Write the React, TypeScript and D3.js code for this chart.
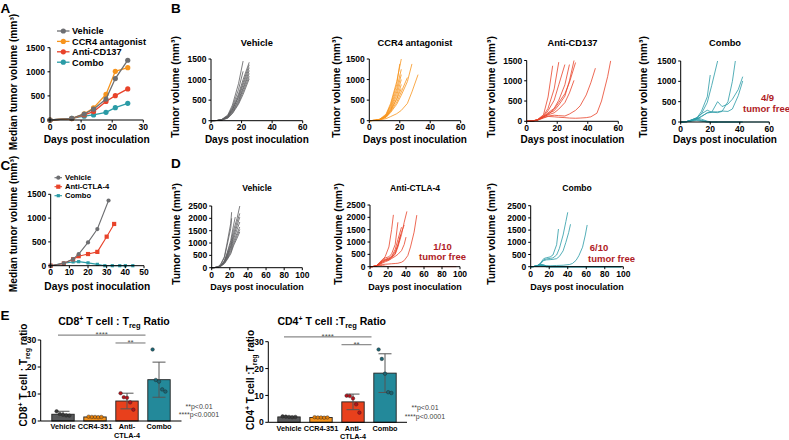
import React from 'react';
import * as d3 from 'd3';

type Pt = [number, number];
const FONT = "'Liberation Sans', Arial, Helvetica, sans-serif";

const COL = {
  vehicle: '#6d6e71',
  ccr4: '#f7941d',
  red: '#e8432a',
  teal: '#2a9ba6',
  darkRed: '#b01c24',
};

// ---------------- Panel A (median tumor volume) ----------------
const aDays = [0, 7, 11, 14, 18, 21, 25];
const aVehicle = [0, 35, 125, 225, 435, 860, 1240];
const aCcr4 = [0, 30, 130, 250, 530, 1010, 1085];
const aCd137 = [0, 30, 105, 175, 385, 505, 645];
const aCombo = [0, 35, 80, 105, 160, 255, 345];
const aXTicks = [0, 10, 20, 30];
const aYTicks = [0, 500, 1000, 1500];
const aLegend = ['Vehicle', 'CCR4 antagonist', 'Anti-CD137', 'Combo'];

// ---------------- Panel C (median tumor volume) ----------------
const cVehicleDays = [0, 7, 12, 15, 20, 25, 31];
const cVehicle = [0, 50, 140, 245, 490, 770, 1370];
const cCtla4Days = [0, 7, 12, 15, 20, 25, 30, 34];
const cCtla4 = [0, 45, 135, 200, 245, 290, 610, 877];
const cComboDays = [0, 7, 12, 15, 20, 25, 29, 33, 37, 40, 44];
const cCombo = [0, 55, 80, 85, 60, 28, 0, 0, 0, 0, 0];
const cXTicks = [0, 10, 20, 30, 40, 50];
const cYTicks = [0, 500, 1000, 1500];
const cLegend = ['Vehicle', 'Anti-CTLA-4', 'Combo'];

// ---------------- Panel B (individual tumors) ----------------
const bXTicks = [0, 20, 40, 60];
const bYTicks = [0, 500, 1000, 1500];
const bVehicle: Pt[][] = [
  [[0, 0], [4, 5], [7, 30], [11, 140], [14, 380], [18, 900], [21, 1450]],
  [[0, 0], [4, 5], [7, 25], [11, 120], [14, 330], [18, 760], [21, 1200]],
  [[0, 0], [4, 5], [7, 25], [11, 110], [14, 300], [18, 650], [21, 1000], [25, 1420]],
  [[0, 0], [4, 5], [7, 20], [11, 95], [14, 260], [18, 600], [21, 930], [25, 1360]],
  [[0, 0], [4, 5], [7, 20], [11, 100], [14, 270], [18, 560], [21, 870], [25, 1290]],
  [[0, 0], [4, 5], [7, 20], [11, 85], [14, 230], [18, 510], [21, 800], [25, 1220]],
  [[0, 0], [4, 5], [7, 15], [11, 80], [14, 210], [18, 470], [21, 760], [25, 1150]],
  [[0, 0], [4, 5], [7, 15], [11, 70], [14, 190], [18, 430], [21, 700], [25, 1080]],
  [[0, 0], [4, 5], [7, 15], [11, 60], [14, 170], [18, 400], [21, 640], [25, 1020]],
];
const bCcr4: Pt[][] = [
  [[0, 0], [4, 10], [7, 40], [11, 160], [14, 420], [18, 950], [21, 1500]],
  [[0, 0], [4, 10], [7, 35], [11, 140], [14, 380], [18, 880], [20, 1380]],
  [[0, 0], [4, 10], [7, 35], [11, 130], [14, 340], [18, 780], [21, 1250]],
  [[0, 0], [4, 10], [7, 30], [11, 120], [14, 300], [18, 700], [21, 1120]],
  [[0, 0], [4, 10], [7, 30], [11, 110], [14, 270], [18, 620], [21, 1000]],
  [[0, 0], [4, 10], [7, 30], [11, 100], [14, 240], [18, 540], [21, 880]],
  [[0, 0], [4, 10], [7, 25], [11, 90], [14, 220], [18, 450], [21, 700], [25, 1050]],
  [[0, 0], [4, 5], [7, 25], [11, 80], [14, 200], [18, 400], [21, 620], [25, 950], [28, 1380]],
  [[0, 0], [4, 5], [7, 20], [11, 50], [14, 100], [18, 170], [21, 250], [25, 420], [28, 700], [32, 1120]],
  [[0, 0], [4, 10], [7, 30], [11, 100], [14, 250], [18, 520], [21, 780]],
];
const bCd137: Pt[][] = [
  [[0, 0], [4, 10], [7, 40], [11, 160], [14, 600], [17, 1370]],
  [[0, 0], [4, 10], [7, 40], [11, 140], [14, 320], [18, 800], [21, 1460]],
  [[0, 0], [4, 10], [7, 35], [11, 120], [14, 260], [18, 520], [21, 900], [25, 1400]],
  [[0, 0], [4, 10], [7, 30], [11, 110], [14, 210], [18, 320], [21, 520], [25, 900], [28, 1400]],
  [[0, 0], [4, 10], [7, 30], [11, 120], [14, 190], [18, 260], [21, 400], [25, 620], [28, 1000], [31, 1500]],
  [[0, 0], [4, 10], [7, 30], [11, 100], [14, 170], [18, 300], [21, 460], [25, 680], [28, 960], [32, 1450]],
  [[0, 0], [4, 10], [7, 30], [11, 110], [14, 160], [18, 210], [21, 300], [25, 460], [28, 700], [31, 1010]],
  [[0, 0], [4, 10], [7, 30], [11, 90], [14, 130], [18, 150], [21, 140], [25, 130], [28, 180], [32, 270], [35, 380], [39, 650], [42, 950], [45, 1310]],
  [[0, 0], [4, 10], [7, 25], [11, 80], [14, 120], [18, 110], [21, 100], [25, 90], [28, 80], [32, 75], [35, 80], [39, 90], [42, 110], [46, 200], [49, 500], [53, 1100], [55, 1490]],
];
const bCombo: Pt[][] = [
  [[0, 0], [4, 10], [7, 40], [11, 100], [14, 260], [18, 620], [20, 1155]],
  [[0, 0], [4, 10], [7, 40], [11, 90], [14, 200], [18, 480], [21, 900], [25, 1500]],
  [[0, 0], [4, 10], [7, 45], [11, 110], [14, 200], [18, 290], [21, 240], [25, 500], [28, 380], [32, 440], [35, 560], [39, 800], [42, 1115]],
  [[0, 0], [4, 10], [7, 30], [11, 80], [14, 130], [18, 230], [21, 250], [25, 250], [28, 270], [32, 260], [35, 320], [39, 650], [42, 1010]],
  [[0, 0], [4, 10], [7, 30], [11, 70], [14, 140], [18, 220], [21, 240], [25, 230], [28, 260], [32, 500], [35, 1000], [37, 1500]],
  [[0, 0], [4, 10], [7, 50], [11, 100], [14, 70], [18, 20], [21, 0], [60, 0]],
  [[0, 0], [4, 10], [7, 40], [11, 80], [14, 40], [18, 10], [21, 0], [42, 0]],
  [[0, 0], [4, 5], [7, 30], [11, 60], [14, 30], [18, 0], [42, 0]],
  [[0, 0], [4, 5], [7, 20], [11, 40], [14, 20], [18, 0], [25, 0]],
];

// ---------------- Panel D (individual tumors) ----------------
const dXTicks = [0, 20, 40, 60, 80, 100];
const dYTicks = [0, 500, 1000, 1500, 2000, 2500];
const dVehicle: Pt[][] = [
  [[0, 0], [3, 5], [7, 40], [10, 150], [14, 450], [17, 1000], [21, 1800], [22, 2250]],
  [[0, 0], [3, 5], [7, 35], [10, 130], [14, 400], [17, 900], [21, 1600], [22, 2000]],
  [[0, 0], [3, 5], [7, 25], [10, 90], [14, 280], [17, 550], [21, 1000], [24, 1500], [28, 2000], [31, 2500]],
  [[0, 0], [3, 5], [7, 25], [10, 85], [14, 260], [17, 500], [21, 900], [24, 1350], [28, 1850], [31, 2200]],
  [[0, 0], [3, 5], [7, 20], [10, 80], [14, 240], [17, 460], [21, 850], [24, 1250], [28, 1700], [31, 2050]],
  [[0, 0], [3, 5], [7, 20], [10, 70], [14, 220], [17, 420], [21, 780], [24, 1150], [28, 1550], [31, 1850]],
  [[0, 0], [3, 5], [7, 20], [10, 70], [14, 200], [17, 380], [21, 700], [24, 1050], [28, 1400], [31, 1650]],
  [[0, 0], [3, 5], [7, 15], [10, 60], [14, 180], [17, 350], [21, 620], [24, 950], [28, 1300], [31, 1550]],
  [[0, 0], [3, 5], [7, 15], [10, 55], [14, 160], [17, 320], [21, 560], [24, 880], [28, 1200], [31, 1450]],
  [[0, 0], [3, 5], [7, 20], [10, 80], [14, 260], [17, 600], [21, 1100], [24, 1700], [26, 2050]],
];
const dCtla4: Pt[][] = [
  [[0, 0], [3, 5], [7, 40], [10, 130], [14, 260], [17, 420], [21, 800], [24, 1500], [26, 2100]],
  [[0, 0], [3, 5], [7, 40], [10, 150], [14, 300], [17, 360], [21, 400], [24, 520], [28, 900], [31, 1800]],
  [[0, 0], [3, 5], [7, 35], [10, 120], [14, 250], [17, 300], [21, 350], [24, 420], [28, 600], [31, 900], [35, 1400], [38, 1690]],
  [[0, 0], [3, 5], [7, 30], [10, 110], [14, 220], [17, 280], [21, 320], [24, 380], [28, 500], [31, 800], [35, 1300], [38, 1800], [41, 2240]],
  [[0, 0], [3, 5], [7, 30], [10, 100], [14, 200], [17, 260], [21, 300], [24, 400], [28, 700], [31, 1100], [35, 1600]],
  [[0, 0], [3, 5], [7, 30], [10, 100], [14, 180], [17, 240], [21, 280], [24, 350], [28, 550], [31, 850], [34, 1300]],
  [[0, 0], [3, 5], [7, 25], [10, 80], [14, 150], [17, 200], [21, 260], [24, 330], [28, 420], [31, 500], [35, 650], [38, 900], [40, 1200]],
  [[0, 0], [3, 5], [7, 25], [10, 60], [14, 90], [17, 100], [21, 110], [24, 120], [28, 130], [31, 140], [35, 180], [38, 250], [42, 450], [45, 800], [49, 1400], [52, 2090]],
  [[0, 0], [3, 5], [7, 30], [10, 60], [14, 40], [17, 20], [21, 0], [96, 0]],
];
const dCombo: Pt[][] = [
  [[0, 0], [3, 5], [7, 40], [10, 120], [14, 330], [17, 370], [21, 400], [24, 480], [28, 900], [30, 1545]],
  [[0, 0], [3, 5], [7, 40], [10, 110], [14, 280], [17, 320], [21, 340], [24, 360], [28, 480], [31, 750], [35, 1300], [38, 1850], [40, 2230]],
  [[0, 0], [3, 5], [7, 35], [10, 100], [14, 250], [17, 280], [21, 290], [24, 300], [28, 330], [31, 420], [35, 650], [38, 1000], [41, 1400], [43, 1740]],
  [[0, 0], [3, 5], [7, 30], [10, 60], [14, 50], [17, 40], [21, 40], [24, 45], [28, 50], [35, 60], [42, 90], [45, 130], [49, 260], [52, 450], [56, 800], [59, 1300], [61, 1710]],
  [[0, 0], [3, 5], [7, 50], [10, 100], [14, 80], [17, 30], [21, 0], [98, 0]],
  [[0, 0], [3, 5], [7, 40], [10, 80], [14, 60], [17, 20], [21, 0], [98, 0]],
  [[0, 0], [3, 5], [7, 30], [10, 60], [14, 40], [17, 10], [21, 0], [98, 0]],
  [[0, 0], [3, 5], [7, 30], [10, 50], [14, 30], [17, 0], [98, 0]],
  [[0, 0], [3, 5], [7, 20], [10, 40], [14, 20], [17, 0], [98, 0]],
  [[0, 0], [3, 5], [7, 20], [10, 30], [14, 10], [17, 0], [98, 0]],
];

// ---------------- Panel E (bar charts) ----------------
const eCats = ['Vehicle', 'CCR4-351', 'Anti-CTLA-4', 'Combo'];
const eCatLines = [['Vehicle'], ['CCR4-351'], ['Anti-', 'CTLA-4'], ['Combo']];
const eYTicks = [0, 10, 20, 30];
const cd8Mean = [2.5, 1.5, 7.4, 15.3];
const cd8Sd = [1.1, 0.2, 2.9, 6.5];
const cd8Pts = [
  [3.6, 2.6, 2.3, 2.1, 2.0],
  [1.6, 1.5, 1.5, 1.4, 1.5],
  [10.3, 8.8, 8.6, 6.9, 4.2],
  [26.5, 15.2, 14.6, 11.7, 10.9],
];
const cd4Mean = [2.0, 1.8, 7.6, 18.3];
const cd4Sd = [0.2, 0.15, 2.9, 7.2];
const cd4Pts = [
  [2.2, 2.1, 2.0, 1.9, 2.0],
  [1.9, 1.8, 1.8, 1.7, 1.8],
  [9.9, 9.8, 8.9, 6.7, 3.6],
  [27.1, 23.6, 18.1, 11.2, 10.9],
];
const eSigVals = [31.8, 28.9];
const eSigLabels = ['****', '**'];

const eBarFill = ['#58595b', '#f7941d', '#e8401c', '#23899a'];
const ePtFill = ['#3a3a3a', '#e07d0a', '#b5121b', '#1b6574'];

// ---------------- helpers ----------------
type Lin = d3.ScaleLinear<number, number>;

function Axes({ x, y, xTicks, yTicks, fs, xLabDy, yLabDx }: { x: Lin; y: Lin; xTicks: number[]; yTicks: number[]; fs: number; xLabDy: number; yLabDx: number }) {
  const [xa, xb] = x.range();
  const [ya, yb] = y.range();
  return (
    <g fontFamily={FONT} fontWeight="bold" fontSize={fs} fill="#000">
      <line x1={xa} x2={xb} y1={ya} y2={ya} stroke="#000" strokeWidth={1} />
      <line x1={xa} x2={xa} y1={ya} y2={yb} stroke="#000" strokeWidth={1} />
      {xTicks.map((t) => (
        <g key={'x' + t}>
          <line x1={x(t)} x2={x(t)} y1={ya} y2={ya + 2.5} stroke="#000" strokeWidth={1} />
          <text x={x(t)} y={ya + xLabDy} textAnchor="middle">{t}</text>
        </g>
      ))}
      {yTicks.map((t) => (
        <g key={'y' + t}>
          <line x1={xa - 2.5} x2={xa} y1={y(t)} y2={y(t)} stroke="#000" strokeWidth={1} />
          <text x={xa - yLabDx} y={y(t) + fs * 0.36} textAnchor="end">{t}</text>
        </g>
      ))}
    </g>
  );
}

function VText({ x, y, fs, children }: { x: number; y: number; fs: number; children: React.ReactNode }) {
  return (
    <text transform={`translate(${x},${y}) rotate(-90)`} textAnchor="middle" fontSize={fs} fontWeight="bold" fontFamily={FONT}>
      {children}
    </text>
  );
}

function Marker({ kind, cx, cy, r, color }: { kind: string; cx: number; cy: number; r: number; color: string }) {
  if (kind === 'square') return <rect x={cx - r} y={cy - r} width={2 * r} height={2 * r} fill={color} />;
  return <circle cx={cx} cy={cy} r={r} fill={color} />;
}

function PanelA() {
  const x = d3.scaleLinear().domain([0, 30]).range([50, 143.3]);
  const y = d3.scaleLinear().domain([0, 1500]).range([120, 47.7]);
  const series = [
    { vals: aCombo, color: COL.teal },
    { vals: aCd137, color: COL.red },
    { vals: aCcr4, color: COL.ccr4 },
    { vals: aVehicle, color: COL.vehicle },
  ];
  const legendColors = [COL.vehicle, COL.ccr4, COL.red, COL.teal];
  const line = d3.line<number>().x((_, i) => x(aDays[i])).y((d) => y(d));
  return (
    <g>
      {series.map((s, k) => (
        <g key={k}>
          <path d={line(s.vals) || ''} fill="none" stroke={s.color} strokeWidth={1.3} />
          {s.vals.map((v, i) => <circle key={i} cx={x(aDays[i])} cy={y(v)} r={2.6} fill={s.color} />)}
        </g>
      ))}
      <Axes x={x} y={y} xTicks={aXTicks} yTicks={aYTicks} fs={8.5} xLabDy={10} yLabDx={5} />
      {aLegend.map((name, i) => {
        const ly = 31 + i * 10.4;
        return (
          <g key={name}>
            <line x1={57} x2={69.5} y1={ly} y2={ly} stroke={legendColors[i]} strokeWidth={1.3} />
            <circle cx={63.3} cy={ly} r={2.6} fill={legendColors[i]} />
            <text x={72} y={ly + 3.3} fontSize={9.2} fontWeight="bold" fontFamily={FONT}>{name}</text>
          </g>
        );
      })}
      <VText x={16.5} y={82} fs={10.2}>Median tumor volume (mm³)</VText>
      <text x={96.7} y={142.5} textAnchor="middle" fontSize={10.2} fontWeight="bold" fontFamily={FONT}>Days post inoculation</text>
    </g>
  );
}

function PanelC() {
  const x = d3.scaleLinear().domain([0, 50]).range([50.7, 144]);
  const y = d3.scaleLinear().domain([0, 1500]).range([265.7, 194.3]);
  const series = [
    { days: cComboDays, vals: cCombo, color: COL.teal, kind: 'square', r: 1.6 },
    { days: cCtla4Days, vals: cCtla4, color: COL.red, kind: 'square', r: 2.1 },
    { days: cVehicleDays, vals: cVehicle, color: COL.vehicle, kind: 'circle', r: 2.1 },
  ];
  const legend = [
    { name: cLegend[0], color: COL.vehicle, kind: 'circle', r: 2.1 },
    { name: cLegend[1], color: COL.red, kind: 'square', r: 2.1 },
    { name: cLegend[2], color: COL.teal, kind: 'square', r: 1.6 },
  ];
  return (
    <g>
      {series.map((s, k) => {
        const line = d3.line<number>().x((_, i) => x(s.days[i])).y((d) => y(d));
        return (
          <g key={k}>
            <path d={line(s.vals) || ''} fill="none" stroke={s.color} strokeWidth={1.1} />
            {s.vals.map((v, i) => <Marker key={i} kind={s.kind} cx={x(s.days[i])} cy={y(v)} r={s.r} color={s.color} />)}
          </g>
        );
      })}
      <Axes x={x} y={y} xTicks={cXTicks} yTicks={cYTicks} fs={8.5} xLabDy={9.5} yLabDx={4.5} />
      {legend.map((l, i) => {
        const ly = 177.7 + i * 9;
        return (
          <g key={l.name}>
            <line x1={54.5} x2={62} y1={ly} y2={ly} stroke={l.color} strokeWidth={1.1} />
            <Marker kind={l.kind} cx={58.3} cy={ly} r={l.r} color={l.color} />
            <text x={65} y={ly + 2.7} fontSize={7.6} fontWeight="bold" fontFamily={FONT}>{l.name}</text>
          </g>
        );
      })}
      <VText x={16.5} y={224} fs={10.2}>Median tumor volume (mm³)</VText>
      <text x={97.3} y={289.5} textAnchor="middle" fontSize={10.2} fontWeight="bold" fontFamily={FONT}>Days post inoculation</text>
    </g>
  );
}

function Spaghetti({ xr, yr, xMax, yMax, xTicks, yTicks, lines, color, title, titleY, titleFs, tickFs, labelY, labelFs, yLabelX, yLabelY, xLabDy, sw }: {
  xr: [number, number]; yr: [number, number]; xMax: number; yMax: number; xTicks: number[]; yTicks: number[]; lines: Pt[][]; color: string;
  title: string; titleY: number; titleFs: number; tickFs: number; labelY: number; labelFs: number; yLabelX: number; yLabelY: number; xLabDy: number; sw: number;
}) {
  const x = d3.scaleLinear().domain([0, xMax]).range(xr);
  const y = d3.scaleLinear().domain([0, yMax]).range(yr);
  const line = d3.line<Pt>().x((d) => x(d[0])).y((d) => y(d[1]));
  const cx = (xr[0] + xr[1]) / 2;
  return (
    <g>
      {lines.map((l, i) => <path key={i} d={line(l) || ''} fill="none" stroke={color} strokeWidth={sw} />)}
      <Axes x={x} y={y} xTicks={xTicks} yTicks={yTicks} fs={tickFs} xLabDy={xLabDy} yLabDx={4.5} />
      <text x={cx} y={titleY} textAnchor="middle" fontSize={titleFs} fontWeight="bold" fontFamily={FONT}>{title}</text>
      <text x={cx} y={labelY} textAnchor="middle" fontSize={labelFs} fontWeight="bold" fontFamily={FONT}>Days post inoculation</text>
      <VText x={yLabelX} y={yLabelY} fs={10.3}>Tumor volume (mm³)</VText>
    </g>
  );
}

function TumorFree({ x, y1, y2, x2, frac }: { x: number; y1: number; y2: number; x2: number; frac: string }) {
  return (
    <g fontFamily={FONT} fontWeight="bold" fontSize={9.5} fill={COL.darkRed} textAnchor="middle">
      <text x={x} y={y1}>{frac}</text>
      <text x={x2} y={y2}>tumor free</text>
    </g>
  );
}

function PanelB() {
  const common = { xMax: 60, yMax: 1500, xTicks: bXTicks, yTicks: bYTicks, titleY: 46, titleFs: 9.3, tickFs: 8.5, labelY: 142.5, labelFs: 10, yLabelY: 87, xLabDy: 9.5, sw: 0.8 };
  return (
    <g>
      <Spaghetti {...common} xr={[211, 302.7]} yr={[120.7, 59]} lines={bVehicle} color="#5d5d5f" title="Vehicle" yLabelX={178.5} />
      <Spaghetti {...common} xr={[369.3, 460.7]} yr={[120.7, 59]} lines={bCcr4} color={COL.ccr4} title="CCR4 antagonist" yLabelX={340} />
      <Spaghetti {...common} xr={[526.7, 618.3]} yr={[121.3, 60.5]} lines={bCd137} color={COL.red} title="Anti-CD137" yLabelX={495} />
      <Spaghetti {...common} xr={[680.7, 769.3]} yr={[122, 61]} lines={bCombo} color={COL.teal} title="Combo" yLabelX={646.5} />
      <TumorFree x={767.5} x2={766.5} y1={101} y2={111.5} frac="4/9" />
    </g>
  );
}

function PanelD() {
  const common = { xMax: 100, yMax: 2500, xTicks: dXTicks, yTicks: dYTicks, titleY: 190.5, titleFs: 8.6, tickFs: 8.5, labelY: 290, labelFs: 9, yLabelY: 234, xLabDy: 10, sw: 0.8 };
  return (
    <g>
      <Spaghetti {...common} xr={[211.7, 302.3]} yr={[267.7, 206]} lines={dVehicle} color="#5d5d5f" title="Vehicle" yLabelX={179.5} />
      <Spaghetti {...common} xr={[370, 460]} yr={[266.7, 205]} lines={dCtla4} color={COL.red} title="Anti-CTLA-4" yLabelX={341.5} />
      <Spaghetti {...common} xr={[530.7, 623.3]} yr={[266.7, 205.7]} lines={dCombo} color={COL.teal} title="Combo" yLabelX={495} />
      <TumorFree x={442.5} x2={442.5} y1={250} y2={260} frac="1/10" />
      <TumorFree x={599} x2={611.5} y1={250.5} y2={261.5} frac="6/10" />
    </g>
  );
}

function BarPanel({ xr, axisX, axisEnd, yr, means, sds, pts, titleNum, titleX, titleY, yLabelX, yLabelY, pX, pY, colonSpace }: {
  xr: [number, number]; axisX: number; axisEnd: number; yr: [number, number]; means: number[]; sds: number[]; pts: number[][];
  titleNum: string; titleX: number; titleY: number; yLabelX: number; yLabelY: number; pX: number; pY: number; colonSpace: boolean;
}) {
  const x = d3.scaleBand<string>().domain(eCats).range(xr).paddingInner(0.3).paddingOuter(0.15);
  const y = d3.scaleLinear().domain([0, 30]).range(yr);
  const bw = x.bandwidth();
  const c = (k: string) => (x(k) || 0) + bw / 2;
  const y0 = yr[0];
  const sigStarts = [c(eCats[0]) - 5, c(eCats[2]) - 11.5];
  const sigEnd = c(eCats[3]) - 13.5;
  return (
    <g fontFamily={FONT}>
      {eCats.map((k, i) => (
        <rect key={k} x={x(k)} y={y(means[i])} width={bw} height={y0 - y(means[i])} fill={eBarFill[i]} stroke="#222" strokeWidth={0.9} />
      ))}
      {eCats.map((k, i) => (
        <g key={'e' + k} stroke="#555" strokeWidth={1}>
          <line x1={c(k)} x2={c(k)} y1={y(means[i] + sds[i])} y2={y(Math.max(0, means[i] - sds[i]))} />
          <line x1={c(k) - 6.5} x2={c(k) + 6.5} y1={y(means[i] + sds[i])} y2={y(means[i] + sds[i])} />
          <line x1={c(k) - 6.5} x2={c(k) + 6.5} y1={y(Math.max(0, means[i] - sds[i]))} y2={y(Math.max(0, means[i] - sds[i]))} />
        </g>
      ))}
      {eCats.map((k, i) =>
        pts[i].map((v, j) => (
          <circle key={k + j} cx={c(k) + (j - 2) * 3.2} cy={y(v)} r={1.8} fill={ePtFill[i]} stroke="#222" strokeWidth={0.4} />
        ))
      )}
      {/* axes */}
      <line x1={axisX} x2={axisEnd} y1={y0} y2={y0} stroke="#000" strokeWidth={1} />
      <line x1={axisX} x2={axisX} y1={y0} y2={y(30)} stroke="#000" strokeWidth={1} />
      {eYTicks.map((t) => (
        <g key={t}>
          <line x1={axisX - 3} x2={axisX} y1={y(t)} y2={y(t)} stroke="#000" />
          <text x={axisX - 4.5} y={y(t) + 3.1} textAnchor="end" fontSize={8.6} fontWeight="bold">{t}</text>
        </g>
      ))}
      {eCatLines.map((ls, i) => (
        <text key={i} x={c(eCats[i])} y={y0 + 8.2} textAnchor="middle" fontSize={7.3} fontWeight="bold">
          {ls.map((s, j) => <tspan key={j} x={c(eCats[i])} dy={j === 0 ? 0 : 8.3}>{s}</tspan>)}
        </text>
      ))}
      {/* significance */}
      {eSigVals.map((v, i) => (
        <g key={'s' + i}>
          <line x1={sigStarts[i]} x2={sigEnd} y1={y(v)} y2={y(v)} stroke="#8a8a8a" strokeWidth={1.2} />
          <text x={(sigStarts[i] + sigEnd) / 2} y={y(v) + 2.2} textAnchor="middle" fontSize={8} fill="#555">{eSigLabels[i]}</text>
        </g>
      ))}
      {/* title */}
      <text x={titleX} y={titleY} textAnchor="middle" fontSize={10.5} fontWeight="bold">
        {`CD${titleNum}`}<tspan dy={-4} fontSize={7}>+</tspan><tspan dy={4}>{colonSpace ? ' T cell : T' : ' T cell :T'}</tspan><tspan dy={3} fontSize={7.5}>reg</tspan><tspan dy={-3}> Ratio</tspan>
      </text>
      {/* y label */}
      <text transform={`translate(${yLabelX},${yLabelY}) rotate(-90)`} textAnchor="middle" fontSize={10} fontWeight="bold">
        {`CD${titleNum}`}<tspan dy={-4} fontSize={7}>+</tspan><tspan dy={4}>{colonSpace ? ' T cell : T' : ' T cell  :T'}</tspan><tspan dy={3} fontSize={7}>reg</tspan><tspan dy={-3}> ratio</tspan>
      </text>
      {/* p values */}
      <g fontSize={7} fill="#444" textAnchor="middle">
        <text x={pX} y={pY}>**p&lt;0.01</text>
        <text x={pX} y={pY + 8.5}>****p&lt;0.0001</text>
      </g>
    </g>
  );
}

function PanelE() {
  return (
    <g>
      <BarPanel xr={[47, 175]} axisX={40.7} axisEnd={181.5} yr={[421, 340]} means={cd8Mean} sds={cd8Sd} pts={cd8Pts}
        titleNum="8" titleX={114} titleY={325} yLabelX={27} yLabelY={375} pX={199} pY={408.5} colonSpace={true} />
      <BarPanel xr={[273, 401]} axisX={268.3} axisEnd={407} yr={[422.3, 341.7]} means={cd4Mean} sds={cd4Sd} pts={cd4Pts}
        titleNum="4" titleX={331.7} titleY={325} yLabelX={253.5} yLabelY={380} pX={425} pY={410} colonSpace={false} />
    </g>
  );
}

function PanelLetter({ x, y, t }: { x: number; y: number; t: string }) {
  return <text x={x} y={y} fontSize={13.5} fontWeight="bold" fontFamily={FONT}>{t}</text>;
}

export default function App() {
  return (
    <svg width={789} height={440} style={{ position: 'absolute', left: 0, top: 0, background: '#fff' }} fontFamily={FONT}>
      <rect width={789} height={440} fill="#fff" />
      <PanelLetter x={0.5} y={12.5} t="A" />
      <PanelLetter x={171} y={13} t="B" />
      <PanelLetter x={0.5} y={170} t="C" />
      <PanelLetter x={171} y={168} t="D" />
      <PanelLetter x={0.5} y={320} t="E" />
      <PanelA />
      <PanelB />
      <PanelC />
      <PanelD />
      <PanelE />
    </svg>
  );
}
